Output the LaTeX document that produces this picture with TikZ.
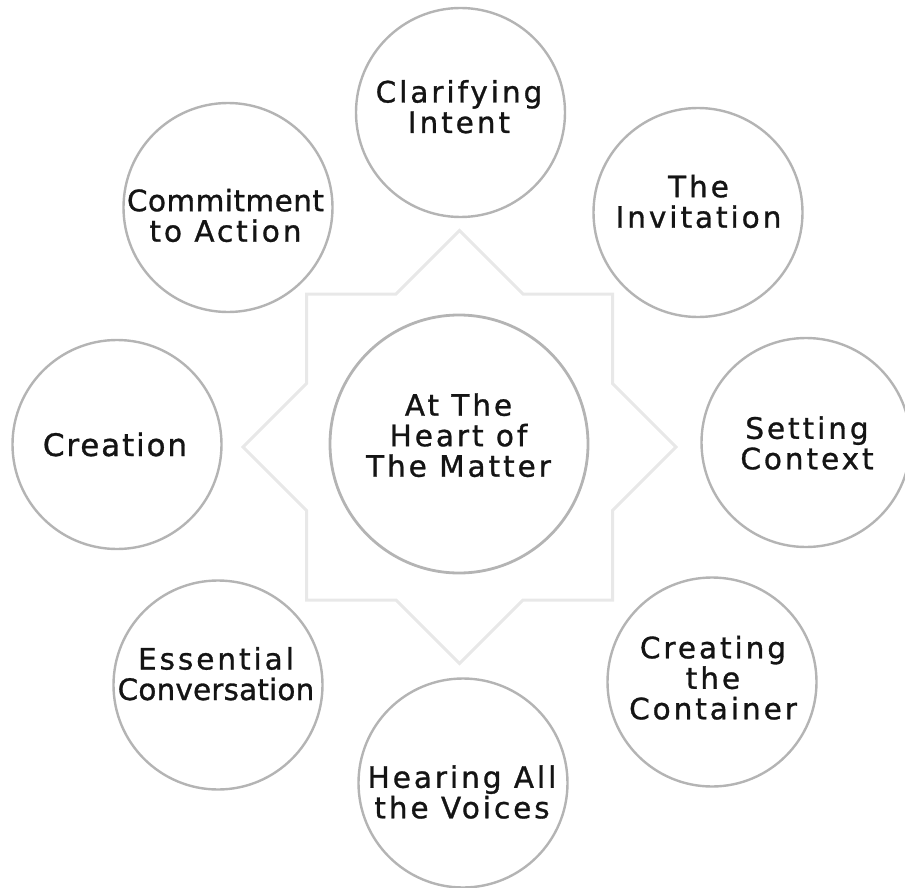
\documentclass[tikz,border=0pt]{standalone}
\usepackage{fontspec}
\setmainfont{DejaVu Sans}[LetterSpace=10,FakeBold=1]
\begin{document}
\begin{tikzpicture}[x=1pt,y=-1pt,
  stage/.style={circle,draw=ringgray,line width=2.4pt,fill=white,minimum size=209pt,inner sep=0pt},
  hub/.style={circle,draw=ringgray,line width=2.8pt,fill=white,minimum size=258pt,inner sep=0pt},
  lbl/.style={align=center,inner sep=0pt,anchor=base,text=txt,
    font=\fontsize{29.5}{30.5}\selectfont}]
\definecolor{ringgray}{HTML}{B4B4B4}
\definecolor{stargray}{HTML}{E8E8E8}
\definecolor{txt}{HTML}{141414}
\useasboundingbox (0,0) rectangle (905,888);

% eight-pointed star behind the hub
\begin{scope}[shift={(459.5,447)}]
\draw[stargray,line width=3pt,line join=miter]
  (0,-216.4) -- (63.4,-153) -- (153,-153) -- (153,-63.4) -- (216.4,0)
  -- (153,63.4) -- (153,153) -- (63.4,153) -- (0,216.4) -- (-63.4,153)
  -- (-153,153) -- (-153,63.4) -- (-216.4,0) -- (-153,-63.4)
  -- (-153,-153) -- (-63.4,-153) -- cycle;
\end{scope}

% hub
\node[hub] (heart) at (459,444) {};
\node[lbl] (heart-t) at (458.5,476.7) {At The\\Heart of\\The Matter};

% surrounding stages
\node[stage] (intent) at (460.5,112.5) {};
\node[stage] (invite) at (698,212.5) {};
\node[stage] (context) at (806,442.5) {};
\node[stage] (container) at (712,682) {};
\node[stage] (voices) at (463,783) {};
\node[stage] (conversation) at (218,685) {};
\node[stage] (creation) at (117,444.5) {};
\node[stage] (commitment) at (228,207.5) {};

% stage labels (anchored on the baseline of their last line)
\node[lbl] (intent-t) at (459,133) {Clarifying\\Intent};
\node[lbl] (invite-t) at (698.5,227.7) {The\\Invitation};
\node[lbl] (context-t) at (807,469.3) {Setting\\Context};
\node[lbl] (container-t) at (713,719.3) {Creating\\the\\Container};
\node[lbl] (voices-t) at (462,818.3) {Hearing All\\the Voices};
\node[lbl] (conversation-t) at (216,700) {Essential\\{\addfontfeature{LetterSpace=0.5}Conversation}};
\node[lbl,font=\fontsize{31}{31}\selectfont\addfontfeature{LetterSpace=6}] (creation-t) at (115,456) {Creation};
\node[lbl] (commitment-t) at (225.5,241.7) {{\addfontfeature{LetterSpace=1.5}Commitment}\\to Action};
\end{tikzpicture}
\end{document}
